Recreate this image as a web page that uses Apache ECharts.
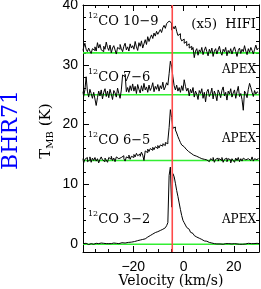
<!DOCTYPE html>
<html><head><meta charset="utf-8">
<script src="https://cdn.jsdelivr.net/npm/echarts@6/dist/echarts.min.js"></script>
<style>html,body{margin:0;padding:0;background:#fff}#c{width:261px;height:289px}</style>
</head><body><div id="c"></div>
<script>
// channel grid of the spectra (km/s)
const velStart = -40, velStep = 0.5;
// 12CO 3-2 (APEX), K, channels from -40 to 30 km/s
const co32 = [
 0.1,0.0,0.15,0.05,0.1,-0.05,0.1,0.15,0.0,0.1,
 0.05,0.15,0.1,0.0,0.2,0.1,0.05,0.15,0.1,0.0,
 0.1,0.2,0.1,0.15,0.05,0.2,0.15,0.25,0.1,0.2,
 0.2,0.25,0.3,0.2,0.3,0.35,0.3,0.4,0.35,0.45,
 0.5,0.45,0.55,0.6,0.65,0.7,0.75,0.8,0.85,0.9,
 1.0,1.05,1.2,1.3,1.45,1.55,1.7,1.8,1.95,2.1,
 2.2,2.3,2.4,2.5,2.6,2.75,2.9,3.1,3.6,11.5,
 12.9,6.2,11.8,11.3,10.2,9.0,8.0,6.9,5.8,4.8,
 4.0,3.6,3.2,2.8,2.5,2.2,2.0,1.8,1.6,1.45,
 1.2,1.1,1.0,0.9,0.8,0.7,0.7,0.55,0.5,0.4,
 0.3,0.25,0.2,0.15,0.1,0.1,0.05,0.1,0.0,0.05,
 0.1,0.0,0.05,0.1,0.0,0.05,0.1,0.0,0.05,0.1,
 0.0,0.1,0.05,0.15,0.0,0.1,0.05,0.0,0.1,0.05,
 0.1,0.0,0.15,0.05,0.1,0.0,0.1,0.05,0.15,0.05,
 0.1];
// 12CO 6-5 (APEX)
const co65 = [
 0.3,-0.4,0.2,0.5,-0.2,0.1,0.6,-0.3,0.4,0.0,
 0.5,-0.1,0.3,-0.4,0.2,0.6,0.1,-0.2,0.4,0.3,
 -0.3,0.5,0.2,0.7,0.0,0.4,-0.2,0.6,0.3,0.1,
 0.5,0.2,0.8,0.3,-0.1,0.6,0.4,0.9,0.2,0.7,
 0.5,1.0,0.6,1.2,0.8,1.1,0.7,1.4,0.9,0.0,
 1.6,1.3,1.9,1.5,2.0,1.7,2.2,1.8,2.3,2.0,
 2.5,2.1,2.6,2.4,2.8,2.5,3.0,2.8,3.3,5.5,
 8.5,7.2,5.4,5.6,5.1,4.6,4.0,3.5,3.0,2.6,
 2.3,2.0,1.9,1.6,1.5,1.3,1.2,1.0,0.9,1.0,
 0.7,0.8,0.5,0.6,0.3,0.5,0.2,0.4,0.1,0.3,
 0.4,-0.2,0.3,0.0,0.5,-0.3,0.2,0.4,-0.1,0.3,
 0.0,0.5,-0.3,0.2,0.4,-0.2,0.3,0.1,-0.4,0.3,
 0.2,-0.3,0.4,0.0,0.5,-0.2,0.3,-0.1,0.4,0.1,
 -0.2,0.3,0.5,0.0,0.2,0.6,-0.1,0.3,0.1,0.4,
 0.2];
// 12CO 7-6 (APEX)
const co76 = [
 0.5,-0.3,0.8,3.0,0.6,-0.4,0.9,0.2,-0.6,0.4,
 0.3,-1.8,-0.5,0.6,-0.2,0.8,-0.7,0.4,1.0,-0.3,
 0.6,-0.5,0.9,0.1,-0.8,0.7,0.3,-0.4,1.1,0.2,
 -0.6,0.8,3.3,3.0,3.4,0.5,1.2,0.4,1.5,0.7,
 1.8,0.6,1.4,0.2,1.7,0.9,0.3,1.5,0.6,1.9,
 0.8,1.3,0.4,1.6,0.7,1.2,2.0,0.5,1.4,0.9,
 1.7,0.6,1.5,1.0,2.1,0.8,1.3,2.0,1.6,3.5,
 5.6,4.8,3.0,1.5,0.8,1.6,0.6,1.2,0.4,1.5,
 0.7,2.5,1.4,0.6,1.1,-0.2,0.9,0.3,1.2,-0.4,
 0.6,0.1,-0.8,0.7,0.2,1.0,-0.6,0.4,-1.2,0.5,
 0.9,-0.3,0.2,1.1,-0.7,0.6,0.0,-1.0,0.8,0.3,
 -0.5,0.7,1.3,-0.2,0.4,-0.9,0.6,0.1,1.0,-0.4,
 0.3,0.8,-0.6,0.5,1.4,-0.3,0.2,-0.8,-2.6,0.6,
 0.2,-0.5,0.9,1.9,1.2,0.4,-0.3,0.7,0.1,0.5,
 0.3];
// 12CO 10-9 (HIFI), multiplied by 5
const co109 = [
 0.4,0.9,1.6,0.6,0.2,0.8,0.3,-0.1,0.7,0.4,
 1.0,0.3,1.7,0.8,1.4,0.5,0.2,1.1,0.6,1.8,
 0.9,0.4,1.3,0.0,0.8,1.2,0.5,-0.2,0.9,0.6,
 1.4,0.7,0.2,1.1,1.6,0.5,1.0,0.3,1.5,0.8,
 1.2,0.6,1.9,1.0,0.4,1.7,1.1,2.0,0.8,1.5,
 2.2,1.4,2.7,1.9,2.5,3.0,2.4,3.3,2.8,3.6,
 3.1,3.5,3.9,3.4,4.2,4.6,4.1,4.9,5.0,5.3,
 5.0,3.8,4.4,4.0,4.5,3.6,2.9,3.2,2.5,2.0,
 2.3,1.6,1.9,1.2,1.5,0.8,1.1,0.5,0.9,-0.8,
 0.3,0.7,-0.4,0.5,0.1,0.9,-0.3,0.4,1.0,0.2,
 -0.5,0.6,0.0,0.8,-0.6,0.3,0.7,-0.2,0.5,1.1,
 0.1,-0.4,0.6,0.2,0.9,-0.5,0.4,0.0,0.7,-0.2,
 0.5,1.0,0.2,-0.6,0.4,0.8,-0.1,0.6,0.2,1.2,
 0.3,-0.3,0.7,0.1,0.9,0.4,-0.2,0.6,1.3,0.5,
 0.8];
const spectra = [co32, co65, co76, co109];
const offsets = [0, 14, 25, 32];
const vlsr = -4.5;
const xRange = [-40, 30];
const yRange = [-1.3, 40];
const xMajor = [-20, 0, 20];
const xMinor = [-35, -30, -25, -15, -10, -5, 5, 10, 15, 25];
const yMajor = [0, 10, 20, 30, 40];
const yMinor = [2, 4, 6, 8, 12, 14, 16, 18, 22, 24, 26, 28, 32, 34, 36, 38];
const lineLabels = ['CO 3\u22122', 'CO 6\u22125', 'CO 7\u22126', 'CO 10\u22129'];
const instLabels = ['APEX', 'APEX', 'APEX', '(x5)  HIFI'];

const SERIF = 'DejaVu Serif';
const SANS = 'Liberation Sans, Arial, sans-serif';
const minus = v => String(v).replace('-', '\u2212');

function mkX(position, ticks, len, main) {
  return {type: 'value', min: xRange[0], max: xRange[1], position,
    axisLine: {show: main, onZero: false, lineStyle: {color: '#000', width: 1}},
    axisTick: {show: true, inside: true, length: len, customValues: ticks, lineStyle: {color: '#000', width: 1}},
    axisLabel: {show: main && position === 'bottom', customValues: xMajor, margin: 8,
      fontSize: 14, fontFamily: SANS, color: '#000', formatter: minus},
    splitLine: {show: false}};
}
function mkY(position, ticks, len, main) {
  return {type: 'value', min: yRange[0], max: yRange[1], position,
    axisLine: {show: main, onZero: false, lineStyle: {color: '#000', width: 1}},
    axisTick: {show: true, inside: true, length: len, customValues: ticks, lineStyle: {color: '#000', width: 1}},
    axisLabel: {show: main && position === 'left', customValues: yMajor, margin: 5,
      fontSize: 14, fontFamily: SANS, color: '#000'},
    splitLine: {show: false}};
}

const vel = co32.map((_, i) => velStart + i * velStep);
const series = [];
offsets.forEach((off) => {
  series.push({type: 'line', z: 1, silent: true, showSymbol: false, animation: false,
    data: [[xRange[0], off], [xRange[1], off]],
    lineStyle: {color: '#33ee33', width: 1.6}});
});
spectra.forEach((sp, k) => {
  series.push({type: 'line', z: 2, silent: true, showSymbol: false, animation: false, step: 'middle',
    data: sp.map((t, i) => [vel[i], t + offsets[k]]),
    lineStyle: {color: '#000', width: 1}});
});
series.push({type: 'line', z: 3, silent: true, showSymbol: false, animation: false,
  data: [[vlsr, yRange[0]], [vlsr, yRange[1]]],
  lineStyle: {color: '#ff4a4a', width: 1.6}});

const labelY = [220, 141, 78, 22];
const instY = [220, 139, 70, 25];
const graphic = [];
lineLabels.forEach((t, k) => {
  graphic.push({type: 'text', x: 88, y: labelY[k], silent: true, style: {
    text: '{s|12}{m|' + t + '}', align: 'left', verticalAlign: 'middle',
    rich: {s: {fontSize: 8, fontFamily: SERIF, fill: '#000', padding: [0, 0, 12, 0]},
           m: {fontSize: 13, fontFamily: SERIF, fill: '#000'}}}});
  graphic.push({type: 'text', x: 256, y: instY[k], silent: true, style: {
    text: instLabels[k], align: 'right', verticalAlign: 'middle',
    fontSize: k === 3 ? 13 : 12, fontFamily: SERIF, fill: '#000'}});
});
graphic.push({type: 'text', x: 171, y: 281, silent: true, style: {
  text: 'Velocity (km/s)', align: 'center', verticalAlign: 'middle',
  fontSize: 14, fontFamily: SERIF, fill: '#000'}});
graphic.push({type: 'text', x: 46, y: 131, rotation: Math.PI / 2, silent: true, style: {
  text: '{m|T}{s|MB}{m| (K)}', align: 'center', verticalAlign: 'middle',
  rich: {m: {fontSize: 15, fontFamily: SERIF, fill: '#000'},
         s: {fontSize: 10, fontFamily: SERIF, fill: '#000', padding: [8, 0, 0, 0]}}}});
graphic.push({type: 'text', x: 11, y: 130, rotation: Math.PI / 2, silent: true, style: {
  text: 'BHR71', align: 'center', verticalAlign: 'middle',
  fontSize: 22, fontFamily: SERIF, fill: '#0000ff'}});

const chart = echarts.init(document.getElementById('c'), null, {renderer: 'canvas'});
chart.setOption({
  animation: false,
  backgroundColor: '#fff',
  grid: {left: 83, right: 2, top: 5, bottom: 37, containLabel: false, outerBoundsMode: 'none'},
  xAxis: [mkX('bottom', xMajor, 6, true), mkX('bottom', xMinor, 3, false),
          mkX('top', xMajor, 6, true), mkX('top', xMinor, 3, false)],
  yAxis: [mkY('left', yMajor, 6, true), mkY('left', yMinor, 3, false),
          mkY('right', yMajor, 6, true), mkY('right', yMinor, 3, false)],
  series,
  graphic
});
</script></body></html>
